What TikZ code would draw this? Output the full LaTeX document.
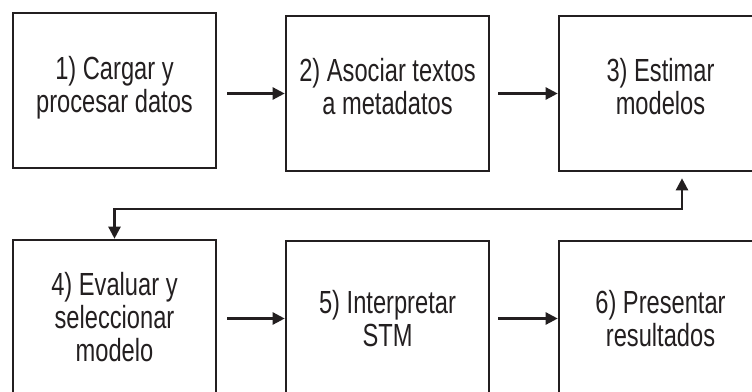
\documentclass[tikz,border=0pt]{standalone}
\usepackage{fontspec}
\setmainfont{Liberation Sans}[FakeStretch=0.74]
\usetikzlibrary{arrows.meta}
\definecolor{ink}{HTML}{231F20}
\begin{document}
\begin{tikzpicture}[x=1pt,y=-1pt,
  boxnode/.style={draw=ink, line width=2.6pt, minimum width=203pt, minimum height=155pt,
    inner sep=0pt, align=center, text=ink, font=\fontsize{32}{33}\selectfont},
  flow/.style={draw=ink, line width=2.4pt, -{Triangle[length=12pt,width=12pt]}},
  both/.style={draw=ink, line width=2.4pt, {Triangle[length=12pt,width=12pt]}-{Triangle[length=12pt,width=12pt]}}]
\useasboundingbox (0,0) rectangle (752,391);
\clip (0,0) rectangle (752,391);
\node[boxnode] (b1) at (114.5,90.5) {1) Cargar y\\procesar datos\\[-21pt]};
\node[boxnode] (b2) at (387.5,93.5) {2) Asociar textos\\a metadatos\\[-19pt]};
\node[boxnode] (b3) at (660.5,93.5) {3) Estimar\\modelos\\[-19pt]};
\node[boxnode] (b4) at (114.5,317.5) {4) Evaluar y\\seleccionar\\modelo};
\node[boxnode] (b5) at (387.5,318.5) {5) Interpretar\\STM};
\node[boxnode] (b6) at (660.5,318.5) {6) Presentar\\resultados};
\coordinate (fb) at (682,209);
\draw[flow] ([xshift=10pt]b1.east |- b2.west) -- (b2.west);
\draw[flow] ([xshift=8pt]b2.east) -- (b3.west);
\draw[flow] ([xshift=10pt]b4.east |- b5.west) -- (b5.west);
\draw[flow] ([xshift=8pt]b5.east) -- (b6.west);
\draw[both, shorten >=6pt] (b4.north) |- (fb) -- (fb |- b3.south);
\end{tikzpicture}
\end{document}
